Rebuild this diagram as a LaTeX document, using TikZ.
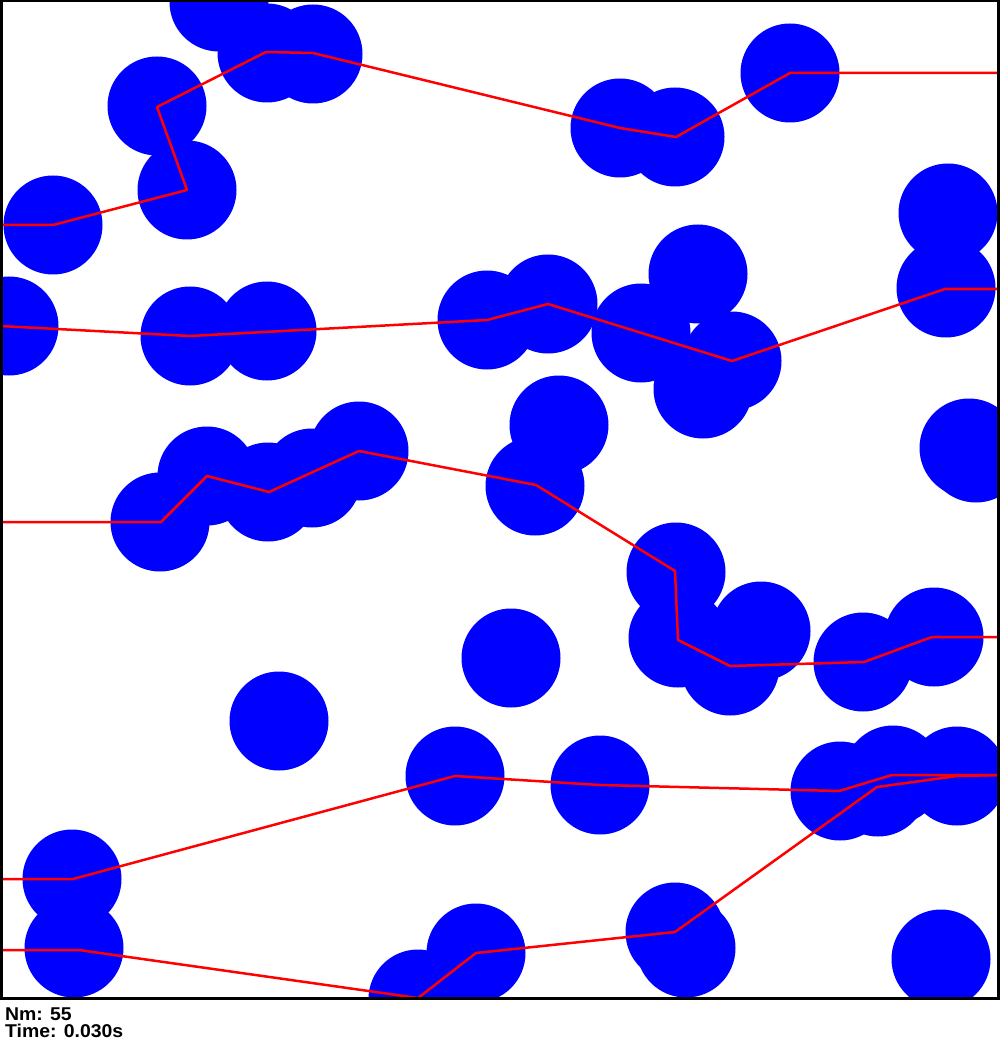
\documentclass[tikz,border=0pt]{standalone}
\usepackage{graphicx}
\usepackage{fontspec}
\setmainfont{Liberation Sans}
\begin{document}
\begin{tikzpicture}[x=1pt,y=-1pt,
  obstacle/.style={fill=blue},
  route/.style={draw=red,line width=2.5pt,line join=round},
  frame/.style={draw=black,line width=3pt},
  info/.style={anchor=base west,inner sep=0pt,font=\bfseries\fontsize{18.5}{20}\selectfont}]
\useasboundingbox (0,0) rectangle (1000,1040);
\fill[white] (0,0) rectangle (1000,1040);
\begin{scope}
\clip (0,0) rectangle (998,998);
\foreach \cx/\cy in {219/2,267/53,313/54,157/106,187/190,53/225,620/128,675/137,790/73,
  948/213,946/288,9/326,190/336,267/331,487/320,548/304,698/274,641/333,732/361,703/389,
  559/425,535/486,969/448,976/453,160/522,207/476,268/492,312/478,359/451,
  676/572,678/638,761/631,730/666,863/662,934/637,511/658,279/721,
  455/776,600/785,840/791,878/787,893/775,957/776,72/879,74/948,
  418/999,476/953,675/932,686/948,941/959}
  \fill[obstacle] (\cx,\cy) circle[radius=49.5];
% route vertices
\coordinate (a0) at (0,225);   \coordinate (a1) at (53,225);  \coordinate (a2) at (187,190);
\coordinate (a3) at (157,107); \coordinate (a4) at (266,52);  \coordinate (a5) at (313,53);
\coordinate (a6) at (620,128); \coordinate (a7) at (676,137); \coordinate (a8) at (790,73);
\coordinate (a9) at (1000,73);
\coordinate (b0) at (0,326);   \coordinate (b1) at (190,336); \coordinate (b2) at (487,320);
\coordinate (b3) at (548,304); \coordinate (b4) at (732,361); \coordinate (b5) at (945,289);
\coordinate (b6) at (1000,289);
\coordinate (c0) at (0,522);   \coordinate (c1) at (161,522); \coordinate (c2) at (207,476);
\coordinate (c3) at (269,492); \coordinate (c4) at (359,451); \coordinate (c5) at (536,485);
\coordinate (c6) at (675,571); \coordinate (c7) at (678,640); \coordinate (c8) at (730,666);
\coordinate (c9) at (864,662); \coordinate (c10) at (932,637); \coordinate (c11) at (1000,637);
\coordinate (d0) at (0,879);   \coordinate (d1) at (73,879);  \coordinate (d2) at (455,776);
\coordinate (d3) at (600,785); \coordinate (d4) at (839,791); \coordinate (d5) at (892,775);
\coordinate (d6) at (1000,775);
\coordinate (e0) at (0,950);   \coordinate (e1) at (79,950);  \coordinate (e2) at (418,998);
\coordinate (e3) at (476,953); \coordinate (e4) at (675,932); \coordinate (e5) at (877,787);
\coordinate (e6) at (957,776); \coordinate (e7) at (1000,775);
\draw[route] (a0)--(a1)--(a2)--(a3)--(a4)--(a5)--(a6)--(a7)--(a8)--(a9);
\draw[route] (b0)--(b1)--(b2)--(b3)--(b4)--(b5)--(b6);
\draw[route] (c0)--(c1)--(c2)--(c3)--(c4)--(c5)--(c6)--(c7)--(c8)--(c9)--(c10)--(c11);
\draw[route] (d0)--(d1)--(d2)--(d3)--(d4)--(d5)--(d6);
\draw[route] (e0)--(e1)--(e2)--(e3)--(e4)--(e5)--(e6)--(e7);
\end{scope}
\draw[frame] (1,1) rectangle (998,998);
\node[info] (nm) at (5,1020) {\scalebox{1.05}[1]{Nm: 55}};
\node[info] (tm) at (5,1037.5) {\scalebox{1.05}[1]{Time: 0.030s}};
\end{tikzpicture}
\end{document}
